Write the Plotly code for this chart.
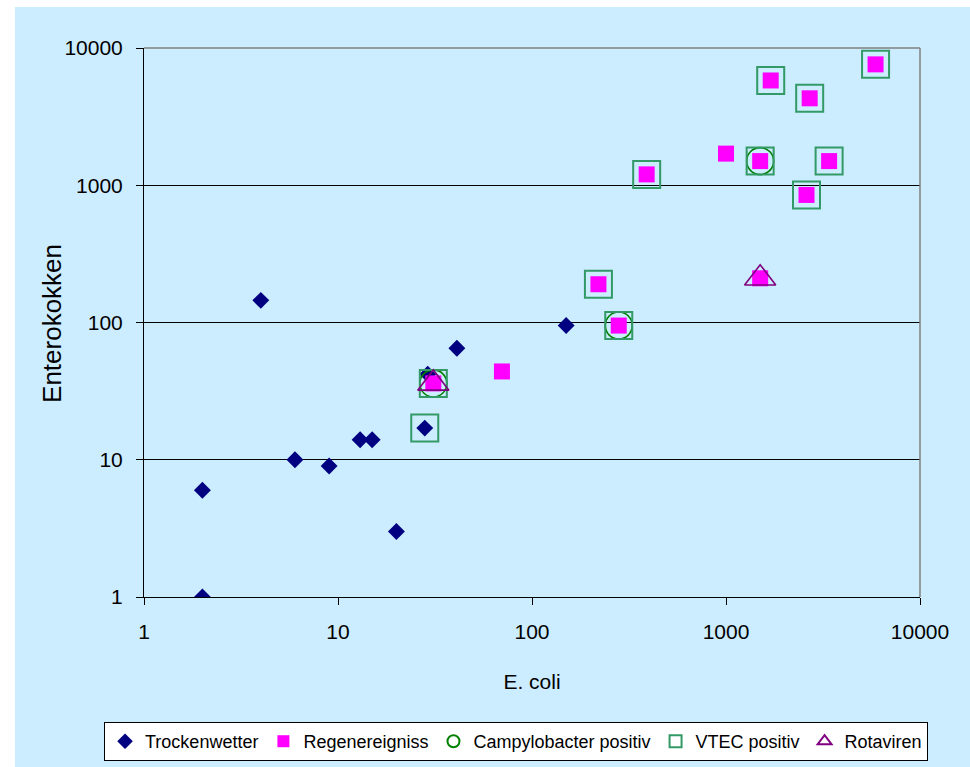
import plotly.graph_objects as go

# Trockenwetter (dry weather samples)
dry_x = [2, 2, 4, 6, 9, 13, 15, 20, 28, 29, 41, 150]
dry_y = [1, 6, 145, 10, 9, 14, 14, 3, 17, 42, 65, 95]

# Regenereigniss (rain events)
rain_x = [31, 70, 220, 280, 390, 1000, 1500, 1500, 2600, 3400, 1700, 2700, 5900]
rain_y = [36, 44, 190, 95, 1200, 1700, 1500, 210, 850, 1500, 5800, 4300, 7600]

# Pathogen findings
campy_x = [31, 280, 1500]
campy_y = [36, 95, 1500]
vtec_x = [28, 31, 220, 280, 390, 1500, 2600, 3400, 1700, 2700, 5900]
vtec_y = [17, 36, 190, 95, 1200, 1500, 850, 1500, 5800, 4300, 7600]
rota_x = [31, 1500]
rota_y = [36, 210]

tick_vals = [1, 10, 100, 1000, 10000]
tick_text = ["1", "10", "100", "1000", "10000"]

FONT = "Liberation Sans, Arial, sans-serif"
BG = "#CCECFF"

fig = go.Figure()
fig.add_trace(go.Scatter(x=dry_x, y=dry_y, mode="markers", name="Trockenwetter",
                         marker=dict(symbol="diamond", size=13, color="#000080",
                                     line=dict(width=0))))
fig.add_trace(go.Scatter(x=rain_x, y=rain_y, mode="markers", name="Regenereigniss",
                         marker=dict(symbol="square", size=16, color="#FF00FF",
                                     line=dict(width=0))))
fig.add_trace(go.Scatter(x=campy_x, y=campy_y, mode="markers", name="Campylobacter positiv",
                         marker=dict(symbol="circle-open", size=27, color="#008000",
                                     line=dict(width=1.6, color="#008000"))))
fig.add_trace(go.Scatter(x=vtec_x, y=vtec_y, mode="markers", name="VTEC positiv",
                         marker=dict(symbol="square-open", size=27, color="#339966",
                                     line=dict(width=2, color="#339966"))))
fig.add_trace(go.Scatter(x=rota_x, y=rota_y, mode="markers", name="Rotaviren",
                         marker=dict(symbol="triangle-up-open", size=27, color="#800080",
                                     line=dict(width=1.6, color="#800080"))))

fig.update_xaxes(type="log", range=[0, 4], tickvals=tick_vals, ticktext=tick_text,
                 showgrid=False, showline=True, linecolor="black", linewidth=1,
                 ticks="outside", ticklen=7, tickcolor="black", ticklabelstandoff=9,
                 tickfont=dict(family=FONT, size=21, color="black"),
                 title=dict(text="E. coli", font=dict(family=FONT, size=21, color="black"),
                            standoff=32),
                 zeroline=False)
fig.update_yaxes(type="log", range=[0, 4], tickvals=tick_vals, ticktext=tick_text,
                 showgrid=True, gridcolor="black", gridwidth=1,
                 showline=True, linecolor="black", linewidth=1,
                 ticks="outside", ticklen=7, tickcolor="black", ticklabelstandoff=9,
                 tickfont=dict(family=FONT, size=21, color="black"),
                 zeroline=False)

fig.update_layout(
    width=970, height=767, autosize=False,
    margin=dict(l=144, r=50, t=48, b=170, autoexpand=False),
    paper_bgcolor="white", plot_bgcolor=BG,
    showlegend=True,
    legend=dict(orientation="h", x=-0.0515, xanchor="left", y=-0.2277, yanchor="top",
                bgcolor="white", bordercolor="black", borderwidth=1,
                font=dict(family=FONT, size=18, color="black"),
                itemsizing="constant", itemwidth=30, tracegroupgap=0),
    annotations=[
        dict(text="Enterokokken", xref="paper", yref="paper", x=-0.1186, y=0.4991,
             xanchor="center", yanchor="middle", textangle=-90, showarrow=False,
             font=dict(family=FONT, size=26, color="black")),
    ],
    shapes=[
        # chart area background
        dict(type="rect", xref="paper", yref="paper", x0=-0.1663, x1=1.0650,
             y0=-0.3100, y1=1.0747, fillcolor=BG, line=dict(width=0), layer="below"),
        # grey frame on top and right of the plot area
        dict(type="line", xref="paper", yref="paper", x0=0, x1=1, y0=1, y1=1,
             line=dict(color="#808080", width=1.5), layer="above"),
        dict(type="line", xref="paper", yref="paper", x0=1, x1=1, y0=0, y1=1,
             line=dict(color="#808080", width=1.5), layer="above"),
    ],
)

fig.write_html("out.html")
